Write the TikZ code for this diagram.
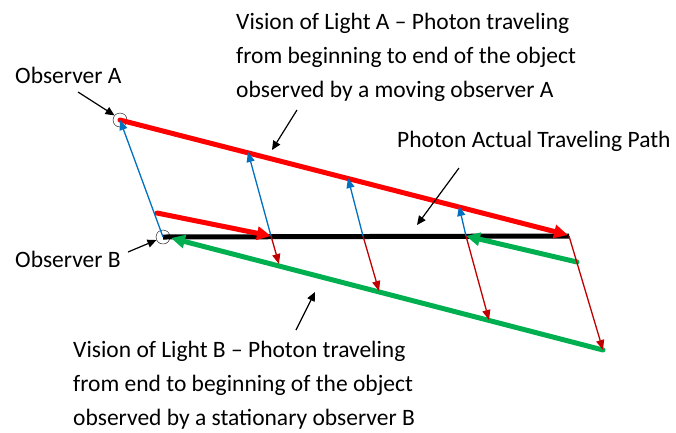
\documentclass[tikz,border=0pt]{standalone}
\usepackage{fontspec}
\setmainfont{Carlito}
\usetikzlibrary{arrows.meta,positioning,calc}
\definecolor{visionred}{RGB}{255,0,0}
\definecolor{visiongreen}{RGB}{0,176,80}
\definecolor{lightblue}{RGB}{0,112,192}
\definecolor{darkred}{RGB}{192,0,0}

\tikzset{
  lightpath/.style={line width=5pt, line cap=round, -{Triangle[length=14pt,width=13pt]}},
  raypath/.style={line width=1.3pt, -{Triangle[length=10pt,width=8pt]}},
  pointer/.style={line width=1.2pt, black, -{Triangle[length=9pt,width=8pt]}},
  observer/.style={circle, draw, thin, minimum size=14pt, inner sep=0pt},
  label/.style={font=\fontsize{23.5}{34}\selectfont, inner sep=0pt, align=left, anchor=base west}
}

\begin{document}
\begin{tikzpicture}[x=1pt,y=-1pt]
    \useasboundingbox (0,0) rectangle (676,432);

    % Observers
    \node[observer] (obsA) at (120,120) {};
    \node[observer] (obsB) at (163,237) {};

    % Points on the paths
    \coordinate (aend) at (568,235);
    \coordinate (bend) at (569,236);
    \coordinate (p1) at (271,236);
    \coordinate (p2) at (363,236);
    \coordinate (p3) at (466,236);
    \coordinate (a1) at (248,152);
    \coordinate (a2) at (348,178);
    \coordinate (a3) at (459,206);
    \coordinate (g1) at (279,264);
    \coordinate (g2) at (379,291);
    \coordinate (g3) at (489,320);
    \coordinate (gend) at (603,350);
    \coordinate (rstart) at (157,213);
    \coordinate (g2start) at (577,262);

    % Photon actual path
    \draw[line width=5pt] (obsB.center) -- (bend);

    % Vision of light A and B
    \draw[lightpath, visionred] (obsA.center) -- (aend);
    \draw[lightpath, visionred] (rstart) -- (p1);
    \draw[lightpath, visiongreen] (gend) -- ($(obsB.center)+(8,1)$);
    \draw[lightpath, visiongreen] (g2start) -- (p3);

    % Rays up to observer A
    \draw[raypath, lightblue] (obsB.center) -- (obsA.center);
    \draw[raypath, lightblue] (p1) -- (a1);
    \draw[raypath, lightblue] (p2) -- (a2);
    \draw[raypath, lightblue] (p3) -- (a3);

    % Rays down to the green path
    \draw[raypath, darkred] (p1) -- (g1);
    \draw[raypath, darkred] (p2) -- (g2);
    \draw[raypath, darkred] (p3) -- (g3);
    \draw[raypath, darkred] (bend) -- (gend);

    % Labels
    \node[label] (labA) at (15,83) {Observer A};
    \node[label] (labB) at (15,267) {Observer B};
    \node[label] (visionA) at (236,97) {Vision of Light A -- Photon traveling\\from beginning to end of the object\\observed by a moving observer A};
    \node[label] (actual) at (397,147) {Photon Actual Traveling Path};
    \node[label] (visionB) at (73,425) {Vision of Light B -- Photon traveling\\from end to beginning of the object\\observed by a stationary observer B};

    % Pointers
    \coordinate (ptA) at (78,92);
    \coordinate (ptB) at (128,252);
    \coordinate (ptvA) at (297,110);
    \coordinate (ptact) at (459,168);
    \coordinate (ptvB) at (296,330);
    \draw[pointer] (ptA) -- (obsA.140);
    \draw[pointer] (ptB) -- (obsB.205);
    \draw[pointer] (ptvA) -- (272,150);
    \draw[pointer] (ptact) -- (417,225);
    \draw[pointer] (ptvB) -- (315,292);
\end{tikzpicture}
\end{document}
